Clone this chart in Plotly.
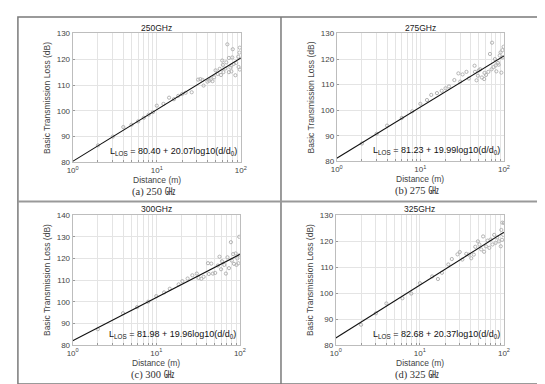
import plotly.graph_objects as go

W, H = 545, 384

freqs = ["250GHz", "275GHz", "300GHz", "325GHz"]
captions = ["(a) 250 ㎓", "(b) 275 ㎓", "(c) 300 ㎓", "(d) 325 ㎓"]
fit_a = [80.40, 81.23, 81.98, 82.68]
fit_b = [20.07, 19.99, 19.96, 20.37]
fit_labels = ["80.40 + 20.07", "81.23 + 19.99", "81.98 + 19.96", "82.68 + 20.37"]
y_ranges = [[80, 130], [80, 130], [80, 140], [80, 130]]
y_ticks = [[80, 90, 100, 110, 120, 130], [80, 90, 100, 110, 120, 130],
           [80, 90, 100, 110, 120, 130, 140], [80, 90, 100, 110, 120, 130]]

d_a = [2, 3, 4, 5, 6, 7, 8, 9, 10, 12, 14, 16, 18, 20, 22, 26, 31, 33, 35, 36, 40, 42, 44, 46, 48,
       50, 53, 56, 58, 60, 61, 62, 65, 67, 69, 72, 72, 75, 77, 77, 79, 80, 82, 86, 88, 93, 94, 96, 97, 97]
L_a = [86.6, 90.0, 93.7, 94.6, 95.9, 97.3, 98.5, 99.5, 102.0, 102.7, 105.1, 104.5, 105.8, 106.5, 107.0, 107.2, 112.1, 112.3, 112.0, 109.8, 111.3, 111.7, 112.2, 111.5, 113.0,
       115.7, 114.3, 116.3, 113.9, 119.5, 117.8, 115.0, 116.4, 118.8, 125.8, 120.5, 115.0, 116.8, 117.6, 115.3, 120.7, 123.9, 118.2, 113.8, 118.6, 121.0, 117.0, 122.6, 124.5, 116.0]

d_b = [2, 3, 4, 6, 8, 10, 12, 13.5, 15.8, 18, 20, 22, 25.5, 28.5, 30, 32, 35.6, 38, 44.5, 45, 47, 48.8,
       50, 52, 54.5, 58, 58.5, 61, 65, 68, 71, 72, 75, 78, 79.5, 81, 85, 86.5, 89, 91, 93, 96, 96, 99]
L_b = [87.0, 90.8, 94.0, 97.0, 99.6, 102.5, 104.0, 106.0, 106.7, 107.6, 108.6, 109.3, 111.8, 114.4, 111.2, 114.0, 115.0, 112.4, 117.4, 115.0, 111.7, 113.5,
       115.6, 116.0, 112.8, 112.2, 114.6, 113.8, 115.0, 122.0, 116.0, 126.4, 116.9, 120.0, 117.5, 115.2, 118.5, 117.8, 121.4, 122.6, 114.7, 123.5, 120.7, 124.8]

d_c = [2, 4, 5.9, 8, 10, 12.4, 14.5, 18.5, 20.5, 23.7, 27, 30.5, 32, 34.6, 36.8, 41.5, 42.5, 45.5, 47.5,
       50.6, 54.5, 57, 59.5, 61, 65, 68, 71, 74, 78, 80, 83, 85, 89, 91, 93, 96, 98, 99]
L_c = [87.3, 94.7, 97.5, 100.0, 102.6, 104.3, 106.0, 108.0, 109.5, 110.7, 112.2, 113.0, 111.0, 110.6, 111.5, 117.8, 112.8, 117.6, 113.0,
       113.3, 116.7, 120.8, 115.0, 118.7, 117.0, 113.0, 120.5, 115.5, 127.5, 119.0, 122.0, 117.5, 122.3, 117.0, 120.0, 117.8, 130.0, 121.5]

d_d = [2, 3, 4, 6.2, 7.9, 10, 14, 16.4, 18.3, 21.8, 24, 28, 29.8, 32, 35.6, 38.2, 40.8, 43.8, 45.6, 49,
       51, 53.6, 56.5, 58, 61, 64, 67, 69.5, 73, 76.5, 79.5, 83, 87, 91.6, 93, 94.8, 95.6, 98, 100]
L_d = [87.8, 92.2, 96.0, 98.0, 99.8, 103.8, 106.4, 105.4, 107.8, 111.0, 113.1, 114.9, 115.8, 112.9, 115.1, 114.8, 113.4, 114.8, 117.8, 119.9,
       118.7, 116.8, 121.8, 115.9, 118.0, 120.2, 117.4, 120.6, 118.7, 122.4, 119.3, 121.4, 119.9, 118.0, 124.3, 120.5, 127.1, 122.4, 127.0]

dists = [d_a, d_b, d_c, d_d]
losses = [L_a, L_b, L_c, L_d]

# plot areas in pixels: (left, right, top, bottom)
boxes = [(60, 232, 22, 154), (330, 501, 22, 153), (60, 231, 208, 341), (329, 501, 208, 341)]


def px(x):
    return x / W


def py(y):
    return 1 - y / H


xt_vals = [1, 2, 3, 4, 5, 6, 7, 8, 9, 10, 20, 30, 40, 50, 60, 70, 80, 90, 100]
xt_text = ["10<sup>0</sup>" if v == 1 else "10<sup>1</sup>" if v == 10 else "10<sup>2</sup>" if v == 100 else "" for v in xt_vals]

fig = go.Figure()
FONT = "Liberation Sans, Arial, sans-serif"
annotations = []
shapes = []

for i in range(4):
    sfx = "" if i == 0 else str(i + 1)
    l, r, t, b = boxes[i]
    xa = "x" + sfx
    ya = "y" + sfx
    fig.add_trace(go.Scatter(
        x=dists[i], y=losses[i], mode="markers", xaxis=xa, yaxis=ya,
        marker=dict(symbol="circle-open", size=3.2, color="#b4b4b4", line=dict(width=1)),
        showlegend=False, hoverinfo="skip"))
    xs = [1, 100]
    ys = [fit_a[i] + fit_b[i] * v for v in [0, 2]]
    fig.add_trace(go.Scatter(
        x=xs, y=ys, mode="lines", xaxis=xa, yaxis=ya,
        line=dict(color="#111111", width=1.1), showlegend=False, hoverinfo="skip"))
    fig.layout["xaxis" + sfx] = dict(
        domain=[px(l), px(r)], anchor=ya, type="log", range=[0, 2],
        tickvals=xt_vals, ticktext=xt_text, tickfont=dict(size=8, color="#444", family=FONT),
        ticklabelstandoff=0,
        showgrid=True, gridcolor="#e4e4e4", gridwidth=1,
        ticks="inside", ticklen=2.5, tickcolor="#999",
        showline=True, linecolor="#bdbdbd", linewidth=1, mirror=True, zeroline=False)
    fig.layout["yaxis" + sfx] = dict(
        domain=[py(b), py(t)], anchor=xa, range=y_ranges[i],
        tickvals=y_ticks[i], tickfont=dict(size=8, color="#444", family=FONT),
        showgrid=True, gridcolor="#e4e4e4", gridwidth=1,
        ticks="inside", ticklen=2.5, tickcolor="#999",
        showline=True, linecolor="#bdbdbd", linewidth=1, mirror=True, zeroline=False,
        title=dict(text="Basic Transmission Loss (dB)", font=dict(size=8.5, color="#444", family=FONT), standoff=4))
    annotations.append(dict(
        x=px((l + r) / 2), y=py(b + 18), xref="paper", yref="paper", xanchor="center", yanchor="middle",
        text="Distance (m)", showarrow=False, font=dict(size=8.5, color="#444", family=FONT)))
    annotations.append(dict(
        x=px((l + r) / 2), y=py(t - 6), xref="paper", yref="paper", xanchor="center", yanchor="middle",
        text=freqs[i], showarrow=False, font=dict(size=8.5, color="#222", family=FONT)))
    annotations.append(dict(
        x=px(r - 2), y=py(b - 11), xref="paper", yref="paper", xanchor="right", yanchor="middle",
        text="L<sub>LOS</sub> = " + fit_labels[i] + "log10(d/d<sub>0</sub>)", showarrow=False,
        font=dict(size=9, color="#111", family=FONT)))
    annotations.append(dict(
        x=px((l + r) / 2 - 3), y=py(b + 30.5), xref="paper", yref="paper", xanchor="center", yanchor="middle",
        text=captions[i], showarrow=False,
        font=dict(size=10.5, color="#333", family="Liberation Serif, Noto Sans CJK KR, serif")))

# table borders
bc = "#7a7a7a"
shapes.append(dict(type="rect", xref="paper", yref="paper", x0=px(4), x1=px(542), y0=py(381), y1=py(5),
                   line=dict(color=bc, width=1.5)))
shapes.append(dict(type="line", xref="paper", yref="paper", x0=px(273), x1=px(273), y0=py(381), y1=py(5),
                   line=dict(color=bc, width=1.5)))
shapes.append(dict(type="line", xref="paper", yref="paper", x0=px(4), x1=px(542), y0=py(194), y1=py(194),
                   line=dict(color="#999", width=2)))

fig.update_layout(
    width=W, height=H, margin=dict(l=0, r=0, t=0, b=0),
    paper_bgcolor="white", plot_bgcolor="white",
    annotations=annotations, shapes=shapes,
    font=dict(family=FONT))

fig.write_html("out.html")
